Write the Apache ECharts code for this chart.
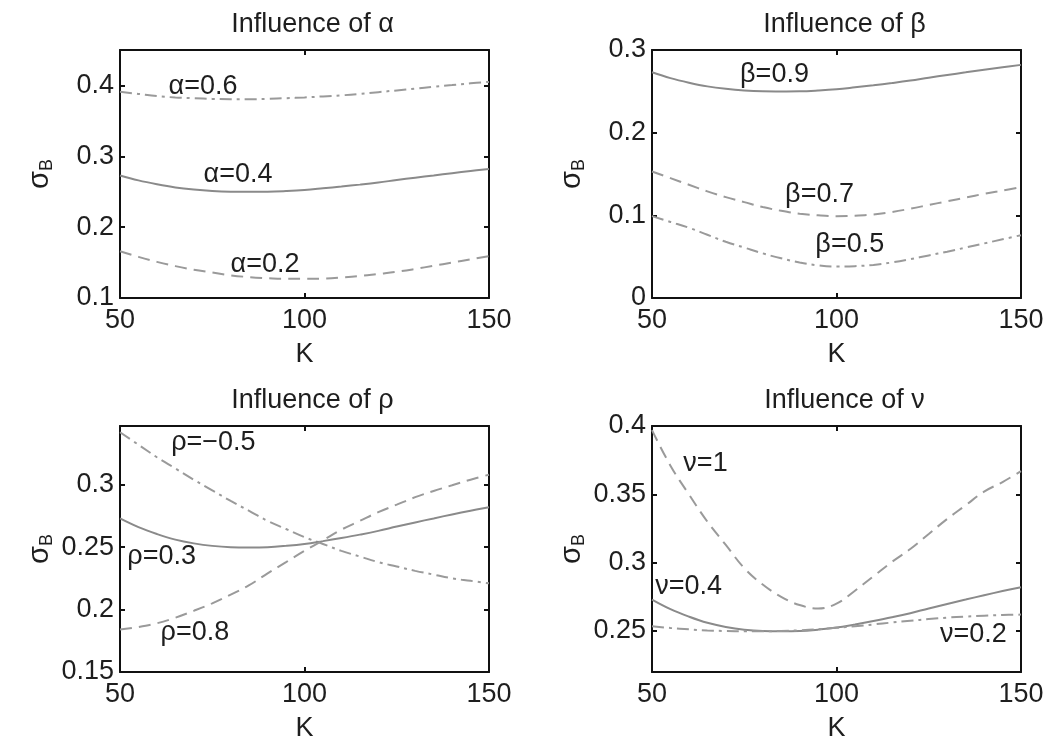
<!DOCTYPE html>
<html>
<head>
<meta charset="utf-8">
<script src="https://cdn.jsdelivr.net/npm/echarts@6/dist/echarts.min.js"></script>
<style>
  html, body { margin: 0; padding: 0; background: #fff; }
  #chart { width: 1056px; height: 743px; }
</style>
</head>
<body>
<div id="chart"></div>
<script>
// Strike values K shared by all four panels
const K = [50, 55, 60, 65, 70, 75, 80, 85, 90, 95, 100, 105, 110, 115, 120, 125, 130, 135, 140, 145, 150];

// Base-case volatility curve (alpha=0.4, beta=0.9, rho=0.3, nu=0.4)
const baseline = [0.273, 0.266, 0.2605, 0.256, 0.253, 0.251, 0.250, 0.2498, 0.250, 0.251, 0.2525,
                  0.2548, 0.2573, 0.260, 0.263, 0.2665, 0.2698, 0.273, 0.2762, 0.2792, 0.282];

// Influence of alpha
const alpha06 = [0.391, 0.388, 0.385, 0.383, 0.382, 0.381, 0.3805, 0.3805, 0.381, 0.382, 0.383,
                 0.3845, 0.386, 0.388, 0.3905, 0.393, 0.3955, 0.398, 0.4005, 0.403, 0.405];
const alpha02 = [0.166, 0.158, 0.151, 0.145, 0.140, 0.136, 0.132, 0.1295, 0.128, 0.127, 0.127,
                 0.1275, 0.129, 0.131, 0.134, 0.137, 0.141, 0.1455, 0.150, 0.1545, 0.159];

// Influence of beta
const beta07 = [0.153, 0.145, 0.137, 0.129, 0.122, 0.116, 0.110, 0.1055, 0.102, 0.100, 0.099,
                0.0995, 0.101, 0.104, 0.108, 0.1125, 0.117, 0.1215, 0.126, 0.130, 0.134];
const beta05 = [0.099, 0.092, 0.085, 0.0765, 0.068, 0.061, 0.054, 0.048, 0.043, 0.0395, 0.038,
                0.0385, 0.040, 0.043, 0.047, 0.0515, 0.056, 0.061, 0.066, 0.071, 0.076];

// Influence of rho
const rhoNeg05 = [0.342, 0.332, 0.322, 0.313, 0.304, 0.2955, 0.287, 0.279, 0.271, 0.2645, 0.258,
                  0.2525, 0.247, 0.2425, 0.238, 0.2345, 0.231, 0.228, 0.225, 0.223, 0.221];
const rho08 = [0.184, 0.186, 0.189, 0.1935, 0.199, 0.205, 0.212, 0.2195, 0.229, 0.238, 0.247,
               0.2555, 0.264, 0.271, 0.278, 0.284, 0.290, 0.295, 0.2995, 0.304, 0.308];

// Influence of nu
const nu1 = [0.397, 0.371, 0.350, 0.330, 0.313, 0.296, 0.284, 0.275, 0.269, 0.2665, 0.270,
             0.2795, 0.290, 0.3005, 0.310, 0.321, 0.332, 0.342, 0.352, 0.359, 0.367];
const nu02 = [0.2535, 0.2522, 0.2512, 0.2504, 0.2500, 0.2498, 0.2498, 0.2500, 0.2505, 0.2513, 0.2523,
              0.2535, 0.2548, 0.2562, 0.2575, 0.2587, 0.2598, 0.2606, 0.2612, 0.2617, 0.2620];

// Tick labels
const xTicks = [50, 100, 150];
const yTicksAlpha = [0.1, 0.2, 0.3, 0.4];
const yTicksBeta = [0, 0.1, 0.2, 0.3];
const yTicksRho = [0.15, 0.2, 0.25, 0.3];
const yTicksNu = [0.25, 0.3, 0.35, 0.4];

// Panel titles and axis ranges
const panelTitles = ['Influence of α', 'Influence of β', 'Influence of ρ', 'Influence of ν'];
const yRanges = [[0.1, 0.45], [0, 0.3], [0.15, 0.347], [0.22, 0.4]];
const yTickSets = [yTicksAlpha, yTicksBeta, yTicksRho, yTicksNu];

// Curve labels: [panel, K, sigma, text]
const curveLabels = [
  [0, 72.5, 0.398, 'α=0.6'], [0, 82, 0.2736, 'α=0.4'], [0, 89.3, 0.1466, 'α=0.2'],
  [1, 83.2, 0.2698, 'β=0.9'], [1, 95.4, 0.1246, 'β=0.7'], [1, 103.6, 0.0641, 'β=0.5'],
  [2, 75.3, 0.3336, 'ρ=−0.5'], [2, 61.3, 0.2422, 'ρ=0.3'], [2, 70.3, 0.1817, 'ρ=0.8'],
  [3, 64.5, 0.3728, 'ν=1'], [3, 59.9, 0.2828, 'ν=0.4'], [3, 137.1, 0.2476, 'ν=0.2']
];

const FONT = '"Liberation Sans", Arial, sans-serif';
const TEXT = '#1e1e1e';
const grids = [
  { left: 120, top: 50, width: 369, height: 248 },
  { left: 652, top: 50, width: 369, height: 248 },
  { left: 120, top: 426, width: 369, height: 247 },
  { left: 652, top: 426, width: 369, height: 247 }
];

const frameLine = { show: true, onZero: false, lineStyle: { color: '#111', width: 2 } };
const innerTick = (vals) => ({ show: true, inside: true, length: 5, customValues: vals, lineStyle: { color: '#111', width: 2 } });

const xAxes = [], yAxes = [], titles = [];
grids.forEach((g, i) => {
  xAxes.push({
    type: 'value', gridIndex: i, position: 'bottom', min: 50, max: 150,
    axisLine: frameLine, axisTick: innerTick(xTicks), splitLine: { show: false },
    axisLabel: { customValues: xTicks, fontSize: 27, fontFamily: FONT, color: TEXT, margin: 9 },
    name: 'K', nameLocation: 'middle', nameGap: 43,
    nameTextStyle: { fontSize: 27, fontFamily: FONT, color: TEXT }
  });
  xAxes.push({
    type: 'value', gridIndex: i, position: 'top', min: 50, max: 150,
    axisLine: frameLine, axisTick: innerTick(xTicks), splitLine: { show: false },
    axisLabel: { show: false }
  });
  yAxes.push({
    type: 'value', gridIndex: i, position: 'left', min: yRanges[i][0], max: yRanges[i][1],
    axisLine: frameLine, axisTick: innerTick(yTickSets[i]), splitLine: { show: false },
    axisLabel: { customValues: yTickSets[i], fontSize: 27, fontFamily: FONT, color: TEXT, margin: 6 },
    name: '{s|σ}{b|B}', nameLocation: 'middle', nameGap: 62, nameRotate: 90,
    nameTextStyle: {
      fontFamily: FONT, color: TEXT,
      rich: {
        s: { fontSize: 29, fontFamily: FONT, color: TEXT, lineHeight: 36, verticalAlign: 'middle' },
        b: { fontSize: 18, fontFamily: FONT, color: TEXT, lineHeight: 36, verticalAlign: 'bottom', padding: [0, 0, 2, 0] }
      }
    }
  });
  yAxes.push({
    type: 'value', gridIndex: i, position: 'right', min: yRanges[i][0], max: yRanges[i][1],
    axisLine: frameLine, axisTick: innerTick(yTickSets[i]), splitLine: { show: false },
    axisLabel: { show: false }
  });
  titles.push({
    text: panelTitles[i], left: g.left + g.width / 2 + 3, top: i < 2 ? 6 : 382, textAlign: 'center',
    textStyle: { fontSize: 27, fontWeight: 'normal', fontFamily: FONT, color: TEXT }
  });
});

const solid = { type: 'solid', color: '#8a8a8a', width: 2 };
const dashed = { type: [12, 7], color: '#9a9a9a', width: 2 };
const dashDot = { type: [12, 5, 3, 5], color: '#9a9a9a', width: 2 };

function curve(panel, values, style) {
  return {
    type: 'line', xAxisIndex: panel * 2, yAxisIndex: panel * 2,
    data: K.map((k, j) => [k, values[j]]),
    smooth: 0.4, showSymbol: false, silent: true, lineStyle: style, z: 2
  };
}

const series = [
  curve(0, alpha06, dashDot), curve(0, baseline, solid), curve(0, alpha02, dashed),
  curve(1, baseline, solid), curve(1, beta07, dashed), curve(1, beta05, dashDot),
  curve(2, rhoNeg05, dashDot), curve(2, baseline, solid), curve(2, rho08, dashed),
  curve(3, nu1, dashed), curve(3, baseline, solid), curve(3, nu02, dashDot)
];

// Curve annotations: invisible zero-size points carrying a text label
[0, 1, 2, 3].forEach((p) => {
  series.push({
    type: 'scatter', xAxisIndex: p * 2, yAxisIndex: p * 2, silent: true, z: 5,
    symbolSize: 0, itemStyle: { color: '#000', opacity: 1 },
    data: curveLabels.filter((c) => c[0] === p).map((c) => ({ value: [c[1], c[2]], name: c[3] })),
    label: {
      show: true, position: 'inside', formatter: '{b}',
      fontSize: 27, fontFamily: FONT, color: TEXT, opacity: 1
    }
  });
});

const chart = echarts.init(document.getElementById('chart'), null, { renderer: 'canvas' });
chart.setOption({
  animation: false,
  backgroundColor: '#fff',
  title: titles,
  grid: grids,
  xAxis: xAxes,
  yAxis: yAxes,
  series: series
});
</script>
</body>
</html>
